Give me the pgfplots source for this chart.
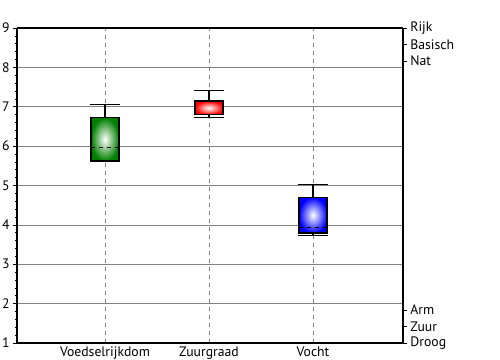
\documentclass[border=0pt]{standalone}
\usepackage{pgfplots}
\pgfplotsset{compat=1.18}
\usepgfplotslibrary{statistics}
\usepackage{fontspec}
\setmainfont{PT Sans}
\begin{document}
\begin{tikzpicture}
\pgfplotsset{every axis/.style={scale only axis, width=289.5pt, height=236.25pt,
  xmin=0.154, xmax=3.865, ymin=1, ymax=9,
  tick label style={font=\fontsize{10.3}{12}\selectfont},
  /pgf/number format/assume math mode=true}}
\begin{axis}[
  axis line style={line width=1.2pt},
  axis y line*=left, axis x line*=bottom,
  xtick={1,2,3}, xticklabels={Voedselrijkdom,Zuurgraad,Vocht},
  x tick style={draw=none},
  xticklabel style={yshift=3.5pt},
  ytick={1,2,...,9}, minor y tick num=4,
  y tick style={black, thin}, tick align=outside,
  major tick length=3pt, minor tick length=1.5pt,
  xmajorgrids, ymajorgrids,
  x grid style={gray, dashed, thin},
  y grid style={gray, thin},
  yticklabel style={xshift=1pt},
  boxplot/draw direction=y,
  boxplot/every box/.style={draw=black, line width=1.1pt},
  boxplot/every median/.style={black, dashed, thick},
  boxplot/every whisker/.style={black, thick},
]
\addplot+[boxplot prepared={draw position=1, lower whisker=5.61, lower quartile=5.62,
  median=5.97, upper quartile=6.72, upper whisker=7.05, box extend=0.27, whisker extend=0.29},
  boxplot/every box/.append style={shading=radial, inner color=white, outer color=green!50!black},
  black, solid, mark=none] coordinates {};
\addplot+[boxplot prepared={draw position=2, lower whisker=6.73, lower quartile=6.80,
  median=6.81, upper quartile=7.14, upper whisker=7.42, box extend=0.27, whisker extend=0.29},
  boxplot/every box/.append style={shading=radial, inner color=white, outer color=red},
  black, solid, mark=none] coordinates {};
\addplot+[boxplot prepared={draw position=3, lower whisker=3.74, lower quartile=3.79,
  median=3.94, upper quartile=4.70, upper whisker=5.03, box extend=0.27, whisker extend=0.29},
  boxplot/every box/.append style={shading=radial, inner color=white, outer color=blue},
  black, solid, mark=none] coordinates {};
\end{axis}
\begin{axis}[
  axis line style={line width=1.2pt},
  axis y line*=right, axis x line*=top,
  xtick=\empty,
  ytick={1,1.42,1.84,8.16,8.58,9},
  yticklabels={Droog,Zuur,Arm,Nat,Basisch,Rijk},
  tick align=outside, major tick length=3pt,
  y tick style={black, thin},
  yticklabel style={xshift=-1pt},
]
\end{axis}
\pgfresetboundingbox
\path[use as bounding box] (current axis.south west) ++(-12.75pt,-12.75pt) rectangle ([xshift=72.75pt,yshift=21pt]current axis.north east);
\end{tikzpicture}
\end{document}
